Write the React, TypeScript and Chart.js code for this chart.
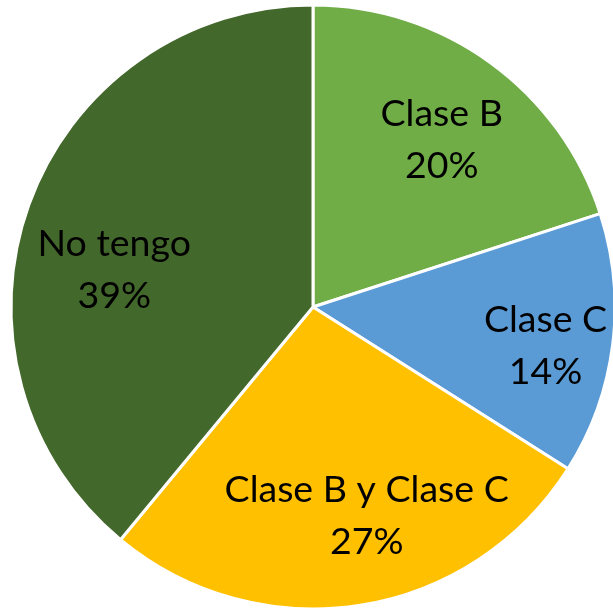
import React, { useEffect, useRef } from "react";
import { Chart, registerables } from "chart.js";

Chart.register(...registerables);

const categories = ["Clase B", "Clase C", "Clase B y Clase C", "No tengo"];
const values = [20, 14, 27, 39];
const colors = ["#70AD47", "#5B9BD5", "#FFC000", "#43682B"];

// label placement: radial fraction and angular nudge (degrees) relative to slice middle
const labelRadius = [0.7, 0.78, 0.71, 0.67];
const labelAngleNudge = [1.5, 2, -5.5, -9];

const labelPlugin = {
  id: "sliceLabels",
  afterDatasetsDraw(chart: any) {
    const ctx = chart.ctx;
    const meta = chart.getDatasetMeta(0);
    const data = chart.data.datasets[0].data as number[];
    const total = data.reduce((a: number, b: number) => a + b, 0);
    ctx.save();
    ctx.fillStyle = "#000000";
    ctx.font = "37.5px Lato";
    ctx.textAlign = "center";
    ctx.textBaseline = "alphabetic";
    meta.data.forEach((arc: any, i: number) => {
      const p = arc.getProps(["x", "y", "startAngle", "endAngle", "outerRadius"], true);
      const mid = (p.startAngle + p.endAngle) / 2 + (labelAngleNudge[i] * Math.PI) / 180;
      const r = p.outerRadius * labelRadius[i];
      const x = p.x + Math.cos(mid) * r;
      const y = p.y + Math.sin(mid) * r;
      const pct = Math.round((data[i] / total) * 100) + "%";
      ctx.fillText(chart.data.labels[i], x, y - 13);
      ctx.fillText(pct, x, y + 39);
    });
    ctx.restore();
  },
};

export default function App() {
  const ref = useRef<HTMLCanvasElement>(null);
  useEffect(() => {
    document.body.style.margin = "0";
    const chart = new Chart(ref.current!, {
      type: "pie",
      data: {
        labels: categories,
        datasets: [
          {
            data: values,
            backgroundColor: colors,
            borderColor: "#FFFFFF",
            borderWidth: 3,
          },
        ],
      },
      options: {
        responsive: false,
        animation: false,
        radius: 302,
        layout: { padding: { left: 13, right: 0, top: 4, bottom: 0 } },
        plugins: { legend: { display: false }, tooltip: { enabled: false } },
      },
      plugins: [labelPlugin],
    });
    return () => chart.destroy();
  }, []);
  return (
    <div style={{ width: 613, height: 610, background: "#fff" }}>
      <canvas ref={ref} width={613} height={610} />
    </div>
  );
}
